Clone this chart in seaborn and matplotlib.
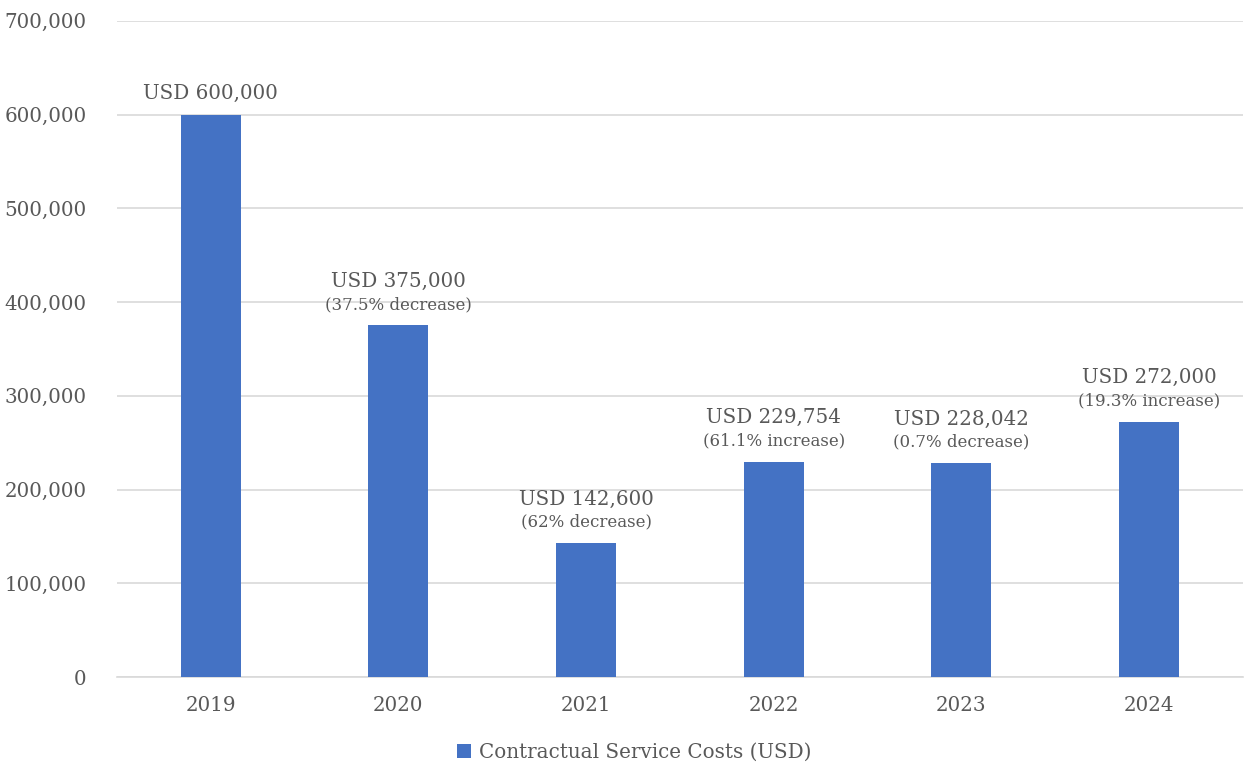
import matplotlib
matplotlib.use("Agg")
import matplotlib.pyplot as plt
import seaborn as sns
import pandas as pd
from matplotlib.ticker import FuncFormatter
from matplotlib.patches import Patch

years = ["2019", "2020", "2021", "2022", "2023", "2024"]
costs = [600000, 375000, 142600, 229754, 228042, 272000]
main_labels = ["USD 600,000", "USD 375,000", "USD 142,600", "USD 229,754", "USD 228,042", "USD 272,000"]
sub_labels = ["", "(37.5% decrease)", "(62% decrease)", "(61.1% increase)", "(0.7% decrease)", "(19.3% increase)"]
series_name = "Contractual Service Costs (USD)"

df = pd.DataFrame({"Year": years, "Cost": costs})

sns.set_theme(style="white")
plt.rcParams['font.family'] = ['DejaVu Serif', 'DejaVu Sans']

bar_color = "#4472C4"
text_color = "#595959"
grid_color = "#D9D9D9"

fig = plt.figure(figsize=(12.44, 7.69), dpi=100)
ax = fig.add_axes([0.094, 0.1196, 0.905, 0.8534])

sns.barplot(data=df, x="Year", y="Cost", color=bar_color, width=0.32, saturation=1,
            linewidth=0, edgecolor="none", ax=ax, zorder=3)

ax.set_ylim(0, 700000)
ax.set_xlim(-0.5, 5.5)
ax.set_yticks(range(0, 700001, 100000))
ax.yaxis.set_major_formatter(FuncFormatter(lambda v, p: f"{int(v):,}"))
ax.grid(axis="y", color=grid_color, linewidth=1.2, zorder=0)
for s in ["top", "right", "left"]:
    ax.spines[s].set_visible(False)
ax.spines["bottom"].set_color(grid_color)
ax.spines["bottom"].set_linewidth(1.2)
ax.tick_params(axis="both", length=0, labelsize=14.3, colors=text_color)
ax.tick_params(axis="y", pad=22)
ax.tick_params(axis="x", pad=14)
ax.set_xlabel("")
ax.set_ylabel("")

for i, (v, m, s) in enumerate(zip(costs, main_labels, sub_labels)):
    if s:
        ax.annotate(s, (i, v), xytext=(0, 9), textcoords="offset points",
                    ha="center", va="bottom", fontsize=12, color=text_color)
        ax.annotate(m, (i, v), xytext=(0, 25), textcoords="offset points",
                    ha="center", va="bottom", fontsize=14.3, color=text_color)
    else:
        ax.annotate(m, (i, v), xytext=(0, 8), textcoords="offset points",
                    ha="center", va="bottom", fontsize=14.3, color=text_color)

handle = Patch(facecolor=bar_color, edgecolor="none")
leg = fig.legend([handle], [series_name], loc="center", bbox_to_anchor=(0.51, 0.022),
                 frameon=False, fontsize=14.3, handlelength=0.7, handleheight=0.7,
                 handletextpad=0.4)
for t in leg.get_texts():
    t.set_color(text_color)

fig.savefig("out.png", dpi=100)
